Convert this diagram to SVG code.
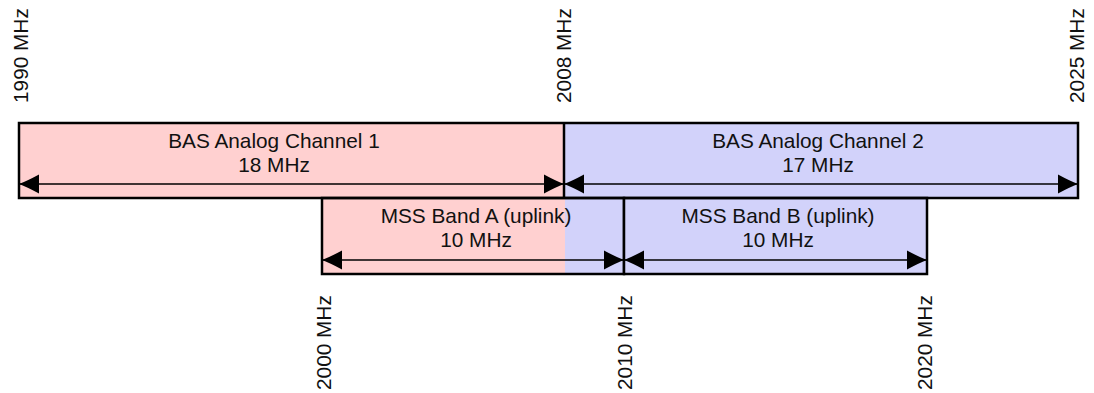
<svg xmlns="http://www.w3.org/2000/svg" width="1094" height="393" viewBox="0 0 1094 393">
<style>
text{font-family:"Liberation Sans",Arial,sans-serif;font-size:20.8px;fill:#111}
.c{text-anchor:middle}
.pink{fill:#ffd0d0}
.blue{fill:#d2d2fa}
.box{fill:none;stroke:#000;stroke-width:2.5}
.div{stroke:#000;stroke-width:2.5}
.arr{stroke:#000;stroke-width:1.6;fill:none;marker-start:url(#ah);marker-end:url(#ah)}
</style>
<defs>
<marker id="ah" viewBox="-20 -10 20 20" refX="0" refY="0" markerWidth="20" markerHeight="20" markerUnits="userSpaceOnUse" orient="auto-start-reverse">
<path d="M0,0 Q-8,-3 -20,-9.5 L-20,9.5 Q-8,3 0,0 Z" fill="#000"/>
</marker>
</defs>
<g id="bas1">
<rect class="pink" x="19" y="123" width="545" height="75"/>
<text class="c" x="274" y="148">BAS Analog Channel 1</text>
<text class="c" x="274" y="172">18 MHz</text>
</g>
<g id="bas2">
<rect class="blue" x="564" y="123" width="514" height="75"/>
<text class="c" x="818" y="148">BAS Analog Channel 2</text>
<text class="c" x="818" y="172">17 MHz</text>
</g>
<g id="mssA">
<rect class="pink" x="322" y="198" width="243" height="76"/>
<rect class="blue" x="565" y="198" width="59" height="76"/>
<rect class="box" x="322" y="198" width="302" height="76"/>
<text class="c" x="476" y="223">MSS Band A (uplink)</text>
<text class="c" x="476" y="247">10 MHz</text>
</g>
<g id="mssB">
<rect class="blue" x="624" y="198" width="303" height="76"/>
<rect class="box" x="624" y="198" width="303" height="76"/>
<text class="c" x="778" y="223">MSS Band B (uplink)</text>
<text class="c" x="778" y="247">10 MHz</text>
</g>
<g id="topframe">
<rect class="box" x="19" y="123" width="1059" height="75"/>
<line class="div" x1="564" y1="123" x2="564" y2="198"/>
</g>
<g id="connectors">
<line class="arr" x1="19" y1="184" x2="564" y2="184"/>
<line class="arr" x1="564" y1="184" x2="1078" y2="184"/>
<line class="arr" x1="322" y1="260" x2="624" y2="260"/>
<line class="arr" x1="624" y1="260" x2="927" y2="260"/>
</g>
<g id="labels">
<text transform="translate(28,103) rotate(-90)">1990 MHz</text>
<text transform="translate(571,103) rotate(-90)">2008 MHz</text>
<text transform="translate(1084,103) rotate(-90)">2025 MHz</text>
<text transform="translate(331,390) rotate(-90)">2000 MHz</text>
<text transform="translate(632,390) rotate(-90)">2010 MHz</text>
<text transform="translate(932,390) rotate(-90)">2020 MHz</text>
</g>
</svg>
